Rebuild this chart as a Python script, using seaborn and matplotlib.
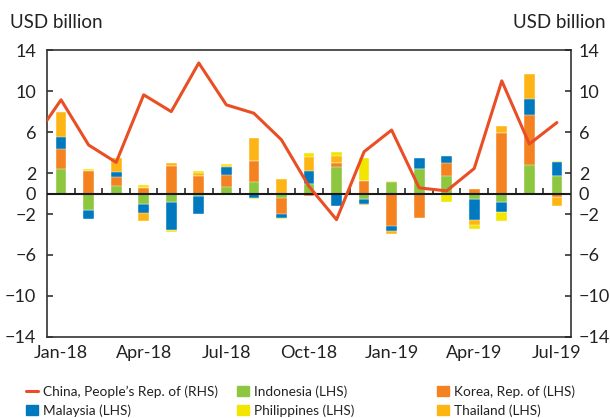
import numpy as np
import pandas as pd
import matplotlib
matplotlib.use("Agg")
import matplotlib.pyplot as plt
import seaborn as sns
from matplotlib.lines import Line2D
from matplotlib.patches import Patch

months = ["Jan-18", "Feb-18", "Mar-18", "Apr-18", "May-18", "Jun-18", "Jul-18",
          "Aug-18", "Sep-18", "Oct-18", "Nov-18", "Dec-18", "Jan-19", "Feb-19",
          "Mar-19", "Apr-19", "May-19", "Jun-19", "Jul-19"]
tick_labels = ["Jan-18", "Apr-18", "Jul-18", "Oct-18", "Jan-19", "Apr-19", "Jul-19"]

indonesia = [2.39, -1.57, 0.75, -0.98, -0.82, -0.26, 0.62, 1.14, -0.39, 0.92, 2.55,
             -0.56, 1.14, 2.35, 1.73, -0.52, -0.78, 2.75, 1.70]
korea = [1.93, 2.22, 0.85, 0.56, 2.71, 1.76, 1.18, 2.03, -1.60, -0.23, 0.42,
         1.21, -3.17, -2.35, 1.21, 0.42, 5.95, 4.90, -0.36]
malaysia = [1.21, -0.88, 0.52, -0.92, -2.71, -1.76, 0.82, -0.42, -0.42, 1.27, -1.21,
            -0.46, -0.52, 1.14, 0.72, -2.03, -1.05, 1.60, 1.40]
thailand = [2.48, 0.0, 1.34, -0.78, 0.23, 0.20, 0.10, 2.29, 1.44, 1.40, 0.72,
            -0.10, -0.23, -0.08, 0.0, -0.52, 0.65, 2.39, -0.82]
philippines = [-0.10, 0.13, -0.15, 0.26, -0.20, 0.26, 0.16, -0.10, -0.07, 0.33, 0.39,
               2.29, 0.05, 0.0, -0.78, -0.36, -0.88, 0.05, 0.08]
# China (RHS); first value is Dec-17, shown only where it enters the axes
china_months = ["Dec-17"] + months
china = [5.25, 9.15, 4.74, 3.04, 9.64, 8.0, 12.75, 8.66, 7.84, 5.25, 0.7, -2.55,
         4.08, 6.2, 0.55, 0.26, 2.45, 11.0, 4.84, 6.93]

series = [("Indonesia (LHS)", indonesia, "#8DC63F"),
          ("Korea, Rep. of (LHS)", korea, "#F58220"),
          ("Malaysia (LHS)", malaysia, "#0079BF"),
          ("Thailand (LHS)", thailand, "#FDB515"),
          ("Philippines (LHS)", philippines, "#F2E500")]
colors = {name: col for name, _, col in series}
line_color = "#E94E24"

sns.set_style("white")
plt.rcParams["font.family"] = ["Lato", "DejaVu Sans"]

fig = plt.figure(figsize=(6.1, 4.18), dpi=100)
ax = fig.add_axes([0.0775, 0.194, 0.858, 0.686])

x = np.arange(len(months))
pos_cum = np.zeros(len(months))
neg_cum = np.zeros(len(months))
layers = []
for name, vals, col in series:
    v = np.array(vals)
    pos_cum = pos_cum + np.where(v > 0, v, 0)
    neg_cum = neg_cum + np.where(v < 0, v, 0)
    layers.append((name, pos_cum.copy(), neg_cum.copy(), col))

for name, pc, nc, col in reversed(layers):
    df = pd.DataFrame({"x": x, "pos": pc, "neg": nc})
    sns.barplot(data=df, x="x", y="pos", color=col, saturation=1, width=0.39,
                ax=ax, edgecolor="white", linewidth=0.3, errorbar=None)
    sns.barplot(data=df, x="x", y="neg", color=col, saturation=1, width=0.39,
                ax=ax, edgecolor="white", linewidth=0.3, errorbar=None)

cx = np.arange(-1, len(months))
sns.lineplot(x=cx, y=china, ax=ax, color=line_color, linewidth=2.2, zorder=5)

ax.axhline(0, color="#1a1a1a", lw=1.5, zorder=4)
ax.vlines(np.arange(0.5, len(months) - 1, 1), 0, 0.5, color="#1a1a1a", lw=1.1, zorder=4)

ax.set_xlim(-0.5, len(months) - 0.5)
yt = [-14, -10, -6, -2, 0, 2, 6, 10, 14]
ylabels = ["\u2212" + str(-t) if t < 0 else str(t) for t in yt]
ax.set_ylim(-14, 14)
ax.set_yticks(yt)
ax.set_yticklabels(ylabels)
ax.set_xticks([months.index(m) for m in tick_labels])
ax.set_xticklabels(tick_labels)
ax.set_xlabel("")
ax.set_ylabel("")
ax.tick_params(axis="x", length=0, pad=6, labelsize=13, colors="#222")
ax.tick_params(axis="y", direction="in", length=4.5, width=1.1, pad=8,
               labelsize=13, colors="#222", left=True)
for s in ax.spines.values():
    s.set_color("#333333")
    s.set_linewidth(1.2)

ax2 = ax.twinx()
ax2.set_ylim(-14, 14)
ax2.set_yticks(yt)
ax2.set_yticklabels(ylabels)
ax2.tick_params(axis="y", direction="in", length=4.5, width=1.1, pad=6,
                labelsize=13, colors="#222", right=True)
for s in ax2.spines.values():
    s.set_visible(False)

fig.text(0.016, 0.947, "USD billion", fontsize=13.5, ha="left", va="center", color="#222")
fig.text(0.993, 0.947, "USD billion", fontsize=13.5, ha="right", va="center", color="#222")

legend_cols = [
    ([Line2D([0], [0], color=line_color, lw=2.2), Patch(color=colors["Malaysia (LHS)"])],
     ["China, People\u2019s Rep. of (RHS)", "Malaysia (LHS)"], 26),
    ([Patch(color=colors["Indonesia (LHS)"]), Patch(color=colors["Philippines (LHS)"])],
     ["Indonesia (LHS)", "Philippines (LHS)"], 237),
    ([Patch(color=colors["Korea, Rep. of (LHS)"]), Patch(color=colors["Thailand (LHS)"])],
     ["Korea, Rep. of (LHS)", "Thailand (LHS)"], 437),
]
for hs, ls, px in legend_cols:
    fig.legend(hs, ls, loc="upper left", bbox_to_anchor=(px / 610, 1 - 385 / 418),
               frameon=False, fontsize=9.8, handlelength=0.85, handleheight=0.8,
               handletextpad=0.4, labelspacing=0.5, borderpad=0, borderaxespad=0,
               labelcolor="#222")

fig.savefig("out.png", dpi=100)
